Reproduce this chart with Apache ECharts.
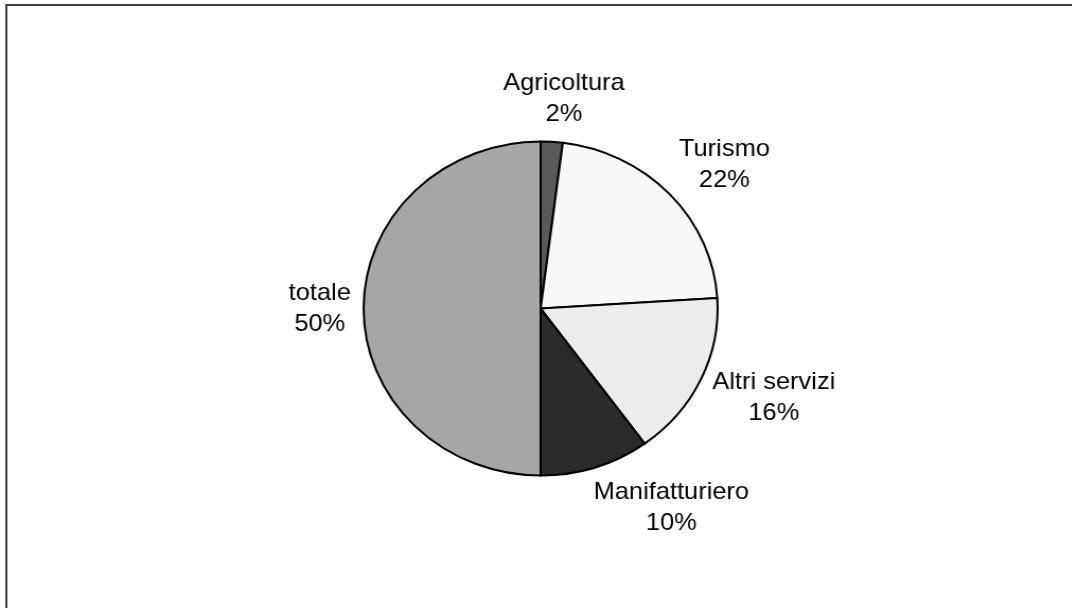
<!DOCTYPE html>
<html>
<head>
<meta charset="utf-8">
<script src="https://cdn.jsdelivr.net/npm/echarts@6/dist/echarts.min.js"></script>
<style>
  html, body { margin: 0; padding: 0; background: #ffffff; overflow: hidden; width: 1072px; height: 608px; }
  #chart { position: absolute; left: 0; top: 0; width: 1012px; height: 608px; transform: scaleX(1.06); transform-origin: 0 0; }
</style>
</head>
<body>
<div id="chart"></div>
<script>
// Sector shares (percent), clockwise from twelve o'clock
const categories = ['Agricoltura', 'Turismo', 'Altri servizi', 'Manifatturiero', 'totale'];
const values = [2, 22, 16, 10, 50];
const sliceColors = ['#595959', '#f8f8f8', '#ececec', '#2b2b2b', '#a6a6a6'];

const CX = 510, CY = 308.5, RADIUS = 167, GAP = 12;
const total = values.reduce((a, b) => a + b, 0);
const cumulative = values.map((v, i) => values.slice(0, i).reduce((a, b) => a + b, 0));
const clamp = v => Math.max(-1, Math.min(1, v));

const chart = echarts.init(document.getElementById('chart'), null, { renderer: 'canvas' });

chart.setOption({
  backgroundColor: '#ffffff',
  animation: false,
  graphic: [
    { type: 'line', shape: { x1: 5, y1: 5, x2: 1100, y2: 5 }, style: { stroke: '#404040', lineWidth: 2 } },
    { type: 'line', shape: { x1: 6, y1: 4, x2: 6, y2: 700 }, style: { stroke: '#404040', lineWidth: 2 } }
  ],
  series: [{
    type: 'pie',
    center: [CX, CY],
    radius: [0, RADIUS],
    startAngle: 90,
    clockwise: true,
    avoidLabelOverlap: false,
    silent: true,
    data: categories.map((name, i) => ({
      name: name,
      value: values[i],
      itemStyle: { color: sliceColors[i] }
    })),
    itemStyle: { borderColor: '#000000', borderWidth: 2 },
    label: {
      show: true,
      position: 'outside',
      formatter: p => p.name + '\n' + p.value + '%',
      fontFamily: 'Liberation Sans, Arial, sans-serif',
      fontSize: 24,
      lineHeight: 31,
      color: '#000000'
    },
    labelLine: { show: false },
    // Place each label just outside its slice, centred on the slice's mid-angle
    labelLayout: function (p) {
      const i = p.dataIndex;
      const mid = (cumulative[i] + values[i] / 2) / total * 2 * Math.PI;
      const dx = Math.sin(mid), dy = -Math.cos(mid);
      const w = p.labelRect.width, h = p.labelRect.height;
      const r = RADIUS + GAP;
      return {
        x: CX + dx * r + clamp(dx * 3) * w / 2,
        y: CY + dy * r + dy * h / 2,
        align: 'center',
        verticalAlign: 'middle'
      };
    }
  }]
});
</script>
</body>
</html>
